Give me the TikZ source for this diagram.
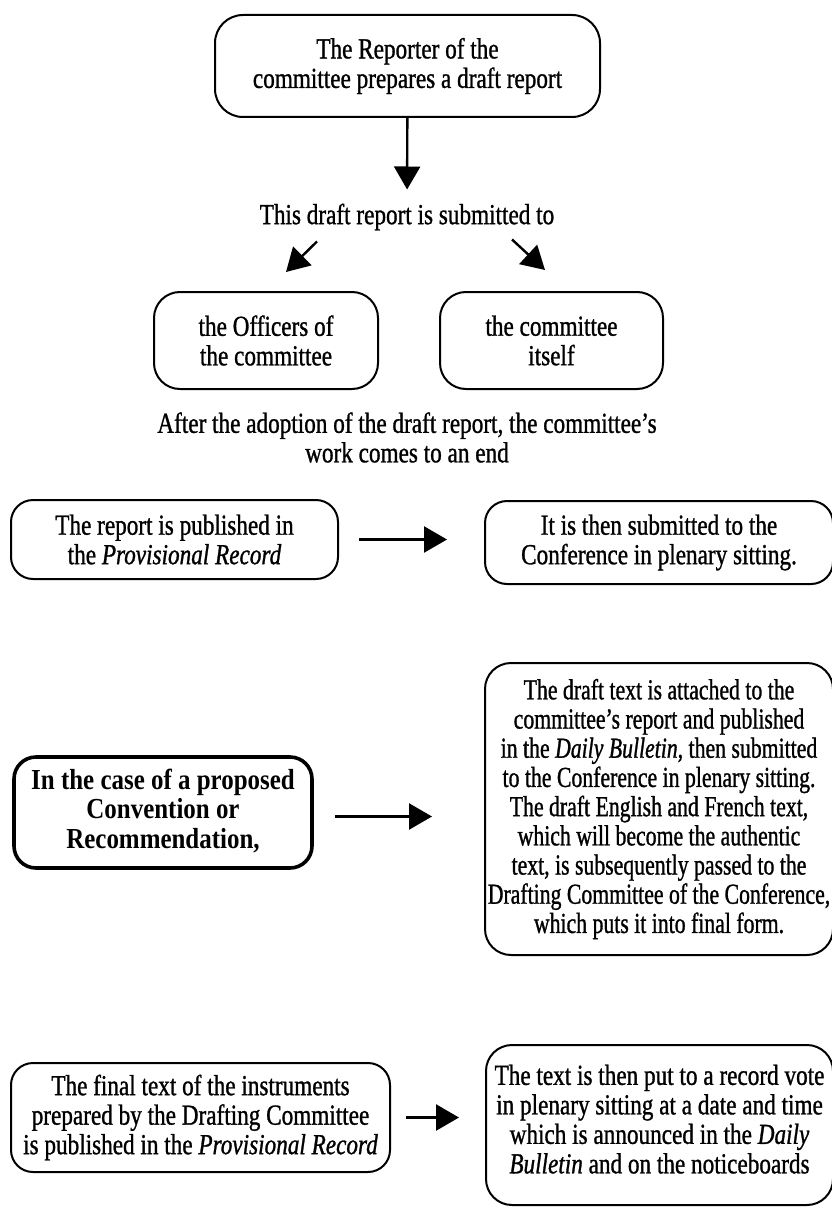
\documentclass[tikz,border=0pt]{standalone}
\usepackage{fontspec}
\setmainfont{Liberation Serif}[FakeStretch=0.80, FakeBold=1.0]
\newfontfamily\narrowfam{Liberation Serif}[FakeStretch=0.75, FakeBold=1.0]
\newfontfamily\heavyfam{Liberation Serif}[FakeStretch=0.86]
\usetikzlibrary{arrows.meta}
\tikzset{
  box/.style={draw, line width=2pt, rounded corners=22pt, inner sep=0pt, align=center,
    font=\fontsize{29}{29.5}\selectfont},
  boldbox/.style={box, line width=3.6pt, font=\fontsize{29}{29.5}\selectfont\heavyfam\bfseries},
  txt/.style={inner sep=0pt, align=center, font=\fontsize{29}{29.5}\selectfont},
  arr/.style={line width=2.4pt, -{Triangle[length=23pt,width=26pt]}}
}
\begin{document}
\begin{tikzpicture}[x=1pt,y=-1pt]
\useasboundingbox (0,0) rectangle (831,1209);
% row 1
\node[box, rounded corners=28pt, minimum width=385pt, minimum height=102pt] (top) at (407.5,66)
  {The Reporter of the\\committee prepares a draft report};
\node[txt] (sub) at (407,217) {This draft report is submitted to};
% row 2
\node[box, rounded corners=26pt, minimum width=224pt, minimum height=97pt] (off) at (266,340.5)
  {the Officers of\\the committee};
\node[box, rounded corners=26pt, minimum width=223pt, minimum height=97pt] (self) at (551.5,340.5)
  {the committee\\itself};
\node[txt] (after) at (407,437.5)
  {After the adoption of the draft report, the committee’s\\work comes to an end};
% row 3
\node[box, minimum width=327pt, minimum height=79pt] (pub) at (174.5,539.5)
  {The report is published in\\the \textit{Provisional Record}};
\node[box, minimum width=348pt, minimum height=83pt] (conf) at (659,542.5)
  {It is then submitted to the\\Conference in plenary sitting.};
% row 4
\node[boldbox, minimum width=298pt, minimum height=111pt] (case) at (163,812.5)
  {\\[-13pt]In the case of a proposed\\Convention or\\Recommendation,};
\node[box, rounded corners=26pt, minimum width=348pt, minimum height=292pt,
  font=\fontsize{29}{29.2}\selectfont\narrowfam] (draft) at (659,809)
  {The draft text is attached to the\\committee’s report and published\\in the \textit{Daily Bulletin}, then submitted\\to the Conference in plenary sitting.\\The draft English and French text,\\which will become the authentic\\text, is subsequently passed to the\\Drafting Committee of the Conference,\\which puts it into final form.};
% row 5
\node[box, minimum width=379pt, minimum height=109pt] (final) at (200.5,1117.5)
  {The final text of the instruments\\prepared by the Drafting Committee\\is published in the \textit{Provisional Record}};
\node[box, rounded corners=26pt, minimum width=347pt, minimum height=160pt] (vote) at (659.5,1125)
  {\\[-21pt]The text is then put to a record vote\\in plenary sitting at a date and time\\which is announced in the \textit{Daily}\\\textit{Bulletin} and on the noticeboards};
% connectors
\draw[arr, shorten >=14pt] (top) -- (sub);
\draw[arr] ([xshift=-90pt,yshift=-11pt]sub.south) -- ([xshift=20pt,yshift=19pt]off.north);
\draw[arr] ([xshift=105pt,yshift=-9pt]sub.south) -- ([xshift=-6.5pt,yshift=21pt]self.north);
\draw[arr, shorten <=20pt, shorten >=37pt] (pub.east) -- (pub.east -| conf.west);
\draw[arr, shorten <=21pt, shorten >=52pt] ([yshift=-4pt]case.east) -- ([yshift=-4pt]case.east -| draft.west);
\draw[arr, shorten <=15pt, shorten >=26pt] (final.east) -- (final.east -| vote.west);
\end{tikzpicture}
\end{document}
